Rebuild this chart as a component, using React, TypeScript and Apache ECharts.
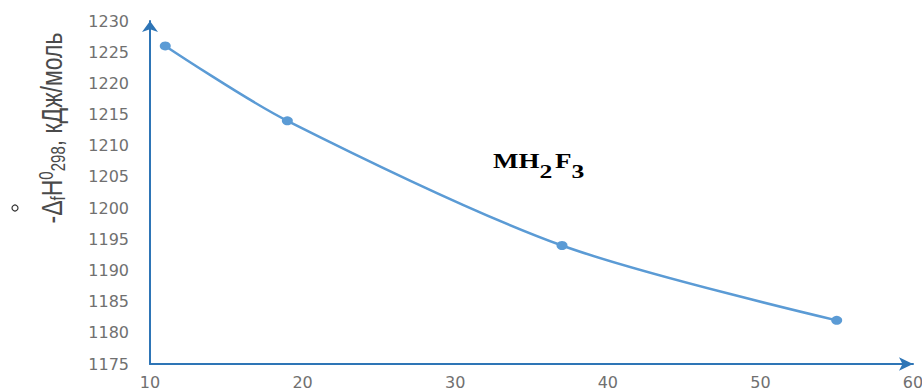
import React, { useEffect, useRef } from "react";
import * as echarts from "echarts";

const xValues = [11, 19, 37, 55];
const yValues = [1226, 1214, 1194, 1182];
const xTicks = { min: 10, max: 60, interval: 10 };
const yTicks = { min: 1175, max: 1230, interval: 5 };
const compoundLabel = ["MH", "2", "F", "3"];
const yTitleParts = ["-Δ", "f", "H", "0", "298", ", кДж/моль"];

export default function App() {
  const ref = useRef<HTMLDivElement>(null);
  useEffect(() => {
    if (!ref.current) return;
    const chart = echarts.init(ref.current, null, { renderer: "svg" });
    const axisColor = "#2e75b6";
    const labelColor = "#707070";
    chart.setOption({
      animation: false,
      backgroundColor: "#ffffff",
      grid: { left: 150, right: 9, top: 21, bottom: 27, outerBoundsMode: "none" },
      xAxis: {
        type: "value",
        min: xTicks.min,
        max: xTicks.max,
        interval: xTicks.interval,
        splitLine: { show: false },
        axisTick: { show: false },
        axisLine: {
          show: true,
          lineStyle: { color: axisColor, width: 2 },
          symbol: ["none", "arrow"],
          symbolSize: [10, 14],
        },
        axisLabel: {
          color: labelColor,
          fontFamily: "DejaVu Sans",
          fontSize: 16,
          margin: 10,
          formatter: (v: number) => String(v),
        },
      },
      yAxis: {
        type: "value",
        min: yTicks.min,
        max: yTicks.max,
        interval: yTicks.interval,
        splitLine: { show: false },
        axisTick: { show: false },
        axisLine: {
          show: true,
          lineStyle: { color: axisColor, width: 2 },
          symbol: ["none", "arrow"],
          symbolSize: [12, 11],
        },
        axisLabel: {
          color: labelColor,
          fontFamily: "DejaVu Sans",
          fontSize: 16,
          margin: 21,
          formatter: (v: number) => String(v),
        },
      },
      series: [
        {
          type: "line",
          data: xValues.map((x, i) => [x, yValues[i]]),
          smooth: 0.3,
          symbol: "circle",
          symbolSize: [11, 9],
          lineStyle: { color: "#5b9bd5", width: 2.5 },
          itemStyle: { color: "#5b9bd5" },
        },
      ],
      graphic: [
        {
          type: "text",
          x: 540,
          y: 166,
          scaleX: 1.35,
          style: {
            text:
              "{m|" + compoundLabel[0] + "}{s|" + compoundLabel[1] + "}{m|" + compoundLabel[2] + "}{s|" + compoundLabel[3] + "}",
            align: "center",
            verticalAlign: "middle",
            rich: {
              m: {
                fontFamily: "Liberation Serif",
                fontWeight: "bold",
                fontSize: 20,
                lineHeight: 20,
                verticalAlign: "top",
                fill: "#000",
                color: "#000",
              },
              s: {
                fontFamily: "Liberation Serif",
                fontWeight: "bold",
                fontSize: 19,
                lineHeight: 30,
                verticalAlign: "bottom",
                padding: [0, 2, 0, 0],
                fill: "#000",
                color: "#000",
              },
            },
          },
        },
        {
          type: "text",
          x: 52,
          y: 128,
          rotation: Math.PI / 2,
          scaleY: 1.3,
          style: {
            text:
              "{n|" + yTitleParts[0] + "}{sb|" + yTitleParts[1] + "}{n|" + yTitleParts[2] + "}{sp|" + yTitleParts[3] + "}{sb|" + yTitleParts[4] + "}{n|" + yTitleParts[5] + "}",
            align: "center",
            verticalAlign: "middle",
            rich: {
              n: {
                fontFamily: "Liberation Sans",
                fontSize: 23,
                lineHeight: 24,
                verticalAlign: "middle",
                fill: "#4a4a4a",
                color: "#4a4a4a",
              },
              sb: {
                fontFamily: "Liberation Sans",
                fontSize: 15,
                lineHeight: 15,
                verticalAlign: "bottom",
                fill: "#4a4a4a",
                color: "#4a4a4a",
              },
              sp: {
                fontFamily: "Liberation Sans",
                fontSize: 15,
                lineHeight: 15,
                verticalAlign: "top",
                fill: "#4a4a4a",
                color: "#4a4a4a",
              },
            },
          },
        },
        {
          type: "circle",
          shape: { cx: 15, cy: 208, r: 3 },
          style: { fill: "none", stroke: "#333", lineWidth: 1.2 },
        },
      ],
    });
    return () => chart.dispose();
  }, []);
  return (
    <div
      ref={ref}
      style={{ position: "fixed", left: 0, top: 0, width: 922, height: 391 }}
    />
  );
}
